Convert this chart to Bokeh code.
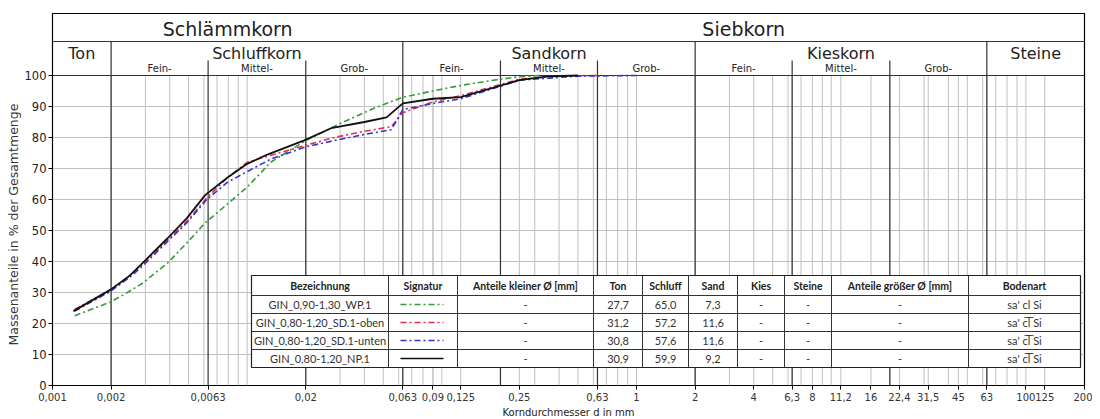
import math
from bokeh.plotting import figure
from bokeh.models import FixedTicker, Range1d, Title
from bokeh.core.properties import value
from bokeh.embed import file_html
from bokeh.resources import INLINE

# ---------------- data ----------------
names = ["GIN_0,90-1,30_WP.1", "GIN_0,80-1,20_SD.1-oben",
         "GIN_0,80-1,20_SD.1-unten", "GIN_0,80-1,20_NP.1"]

d_wp = [0.0013, 0.002, 0.0025, 0.0029, 0.0039, 0.0049, 0.0061, 0.0079, 0.0100, 0.0132,
        0.02, 0.03, 0.045, 0.063, 0.09, 0.125, 0.18, 0.25, 0.32]
p_wp = [22.5, 27.0, 30.5, 33.0, 39.5, 46.0, 52.5, 58.5, 64.0, 72.0,
        79.0, 84.5, 89.5, 93.0, 95.0, 96.8, 98.4, 99.6, 100.0]

d_oben = [0.0013, 0.002, 0.0025, 0.0029, 0.0039, 0.0049, 0.0062, 0.0079, 0.0100, 0.0128,
          0.02, 0.028, 0.04, 0.055, 0.063, 0.09, 0.125, 0.25, 0.4, 0.63]
p_oben = [24.5, 31.0, 35.5, 39.0, 47.0, 53.0, 60.5, 67.0, 72.0, 74.0,
          77.5, 80.0, 82.0, 83.5, 88.0, 91.5, 93.5, 98.8, 99.8, 100.0]

d_unten = [0.0013, 0.002, 0.0025, 0.0029, 0.0039, 0.0049, 0.0062, 0.0079, 0.0100, 0.0132,
           0.02, 0.028, 0.04, 0.055, 0.063, 0.09, 0.125, 0.25, 0.5, 1.0]
p_unten = [24.0, 30.5, 35.0, 38.5, 46.5, 52.5, 60.0, 65.5, 69.0, 73.0,
           77.0, 79.0, 81.0, 82.5, 89.0, 91.0, 92.5, 98.5, 99.8, 100.0]

d_np = [0.00128, 0.002, 0.0025, 0.0029, 0.0039, 0.0049, 0.0061, 0.0079, 0.0100, 0.0127,
        0.0195, 0.027, 0.040, 0.052, 0.063, 0.09, 0.125, 0.25, 0.35, 0.5]
p_np = [24.0, 31.0, 35.5, 39.5, 47.5, 54.0, 61.5, 67.0, 71.5, 74.5,
        79.0, 83.0, 85.0, 86.5, 91.0, 92.5, 93.0, 98.5, 99.7, 100.0]

ton = [27.7, 31.2, 30.8, 30.9]
schluff = [65.0, 57.2, 57.6, 59.9]
sand = [7.3, 11.6, 11.6, 9.2]
kies = ["-", "-", "-", "-"]
steine = ["-", "-", "-", "-"]
kleiner = ["-", "-", "-", "-"]
groesser = ["-", "-", "-", "-"]
bodenart = ["sa' cl Si", "sa' c\u0305l\u0305 Si", "sa' c\u0305l\u0305 Si", "sa' c\u0305l\u0305 Si"]
table_headers = ["Bezeichnung", "Signatur", "Anteile kleiner \u00d8 [mm]", "Ton", "Schluff",
                 "Sand", "Kies", "Steine", "Anteile gr\u00f6\u00dfer \u00d8 [mm]", "Bodenart"]

x_tick_values = [0.001, 0.002, 0.0063, 0.02, 0.063, 0.09, 0.125, 0.25, 0.63, 1, 2, 4, 6.3, 8,
                 11.2, 16, 22.4, 31.5, 45, 63, 100, 125, 200]
x_tick_labels = ["0,001", "0,002", "0,0063", "0,02", "0,063", "0,09", "0,125", "0,25", "0,63",
                 "1", "2", "4", "6,3", "8", "11,2", "16", "22,4", "31,5", "45", "63", "100",
                 "125", "200"]
y_ticks = [0, 10, 20, 30, 40, 50, 60, 70, 80, 90, 100]

# soil classes (boundaries)
main_bounds = [0.002, 0.063, 2, 63]
sub_bounds = [0.0063, 0.02, 0.2, 0.63, 6.3, 20]
sieve_extra = [0.063, 0.09, 0.125, 0.25, 0.63, 6.3, 11.2, 16, 22.4, 31.5, 45, 63, 125]

# ---------------- layout helpers (page pixel -> data) ----------------
FL, FR, FT, FB = 52, 1084, 13, 385
XMIN, XMAX, YMIN, YMAX = 0.001, 200, 0, 120
PPD = (FR - FL) / math.log10(XMAX / XMIN)
PPU = (FB - FT) / (YMAX - YMIN)

def X(px):
    return XMIN * 10 ** ((px - FL) / PPD)

def Y(py):
    return (FB - py) / PPU

def gmean(a, b):
    return math.sqrt(a * b)

p = figure(frame_width=FR - FL, frame_height=FB - FT, x_axis_type="log",
           x_range=Range1d(XMIN, XMAX), y_range=Range1d(YMIN, YMAX),
           output_backend="svg", toolbar_location=None,
           min_border_left=FL, min_border_top=FT, min_border_right=8, min_border_bottom=30)
p.xgrid.visible = False
p.ygrid.visible = False
p.outline_line_color = "black"
p.outline_line_width = 1.2
p.background_fill_color = "white"

# axes
xa = p.xaxis[0]
xa.ticker = FixedTicker(ticks=x_tick_values)
xa.major_label_overrides = {v: l for v, l in zip(x_tick_values, x_tick_labels)}
xa.major_label_text_font = "DejaVu Sans"
xa.major_label_text_font_size = "10px"
xa.major_label_text_color = "#333333"
xa.major_tick_out = 4
xa.major_tick_in = 0
xa.minor_tick_out = 0
xa.minor_tick_in = 0
xa.axis_line_color = None
xa.major_label_standoff = 3
xa.axis_label = "Korndurchmesser d in mm"
xa.axis_label_text_font = "DejaVu Sans"
xa.axis_label_text_font_size = "10px"
xa.axis_label_text_font_style = "normal"
xa.axis_label_text_color = "#222222"
xa.axis_label_standoff = 3

ya = p.yaxis[0]
ya.ticker = FixedTicker(ticks=y_ticks)
ya.major_label_text_font = "DejaVu Sans"
ya.major_label_text_font_size = "11.5px"
ya.major_label_text_color = "#222222"
ya.major_tick_out = 4
ya.major_tick_in = 0
ya.minor_tick_out = 0
ya.minor_tick_in = 0
ya.axis_line_color = None
ya.major_label_standoff = 2

# y-axis title, starting 40 px above the frame bottom (centred on the 0..100 part)
p.add_layout(Title(text="Massenanteile in % der Gesamtmenge", align="left", offset=40,
                   text_font="DejaVu Sans", text_font_size="12.5px",
                   text_font_style="normal", text_color="#333333", standoff=2), "left")

# ---------------- grid ----------------
gray_x = []
for k in range(-3, 3):
    for n in range(1, 10):
        v = n * 10 ** k
        if XMIN < v < XMAX:
            gray_x.append(v)
gray_x += sieve_extra
p.segment(x0=gray_x, y0=[0] * len(gray_x), x1=gray_x, y1=[100] * len(gray_x),
          line_color="#c0c0c0", line_width=1)
hy = y_ticks[1:-1]
p.segment(x0=[XMIN] * len(hy), y0=hy, x1=[XMAX] * len(hy), y1=hy,
          line_color="#c0c0c0", line_width=1)

# boundaries
p.segment(x0=main_bounds, y0=[0] * 4, x1=main_bounds, y1=[Y(41)] * 4,
          line_color="#333333", line_width=1.2)
p.segment(x0=sub_bounds, y0=[0] * 6, x1=sub_bounds, y1=[Y(60)] * 6,
          line_color="#333333", line_width=1.2)
p.segment(x0=[XMIN, XMIN], y0=[100, Y(41)], x1=[XMAX, XMAX], y1=[100, Y(41)],
          line_color="#333333", line_width=1.2)

# header texts
hfont = value("DejaVu Sans")
p.text(x=[gmean(XMIN, 0.063), gmean(0.063, XMAX)], y=[Y(28)] * 2,
       text=["Schl\u00e4mmkorn", "Siebkorn"], text_font=hfont, text_font_size="19px",
       text_align="center", text_baseline="middle", text_color="#222222")
p.text(x=[gmean(XMIN, 0.002), gmean(0.002, 0.063), gmean(0.063, 2), gmean(2, 63), gmean(63, XMAX)],
       y=[Y(53)] * 5, text=["Ton", "Schluffkorn", "Sandkorn", "Kieskorn", "Steine"],
       text_font=hfont, text_font_size="16px", text_align="center", text_baseline="middle",
       text_color="#222222")
groups = [[0.002, 0.0063, 0.02, 0.063], [0.063, 0.2, 0.63, 2], [2, 6.3, 20, 63]]
sx, st = [], []
for g in groups:
    for i, lab in enumerate(["Fein-", "Mittel-", "Grob-"]):
        sx.append(gmean(g[i], g[i + 1]))
        st.append(lab)
p.text(x=sx, y=[Y(68)] * len(sx), text=st, text_font=hfont, text_font_size="10px",
       text_align="center", text_baseline="middle", text_color="#222222")

# ---------------- curves ----------------
colors = ["#3a9a3a", "#e0304a", "#3434c8", "#111111"]
dashes = ["6 3 2 3", "6 3 2 3", "6 3 2 3", "solid"]
widths = [1.6, 1.6, 1.6, 1.8]
series = [(d_wp, p_wp), (d_oben, p_oben), (d_unten, p_unten), (d_np, p_np)]
for (dd, pp), c, ds, w in zip(series, colors, dashes, widths):
    p.line(dd, pp, line_color=c, line_dash=ds, line_width=w)

# ---------------- table ----------------
col_px = [251, 388, 457, 593, 642, 688, 737, 784, 831, 968, 1080]
row_px = [275, 295, 313, 331, 349, 367]
p.quad(left=X(col_px[0]), right=X(col_px[-1]), top=Y(row_px[0]), bottom=Y(row_px[-1]),
       fill_color="white", line_color="#222222", line_width=1.2)
cx = [X(c) for c in col_px[1:-1]]
p.segment(x0=cx, y0=[Y(row_px[0])] * len(cx), x1=cx, y1=[Y(row_px[-1])] * len(cx),
          line_color="#333333", line_width=1)
ry = [Y(r) for r in row_px[1:-1]]
p.segment(x0=[X(col_px[0])] * len(ry), y0=ry, x1=[X(col_px[-1])] * len(ry), y1=ry,
          line_color="#333333", line_width=1)

ccent = [X((a + b) / 2) for a, b in zip(col_px[:-1], col_px[1:])]
rcent = [Y((a + b) / 2) for a, b in zip(row_px[:-1], row_px[1:])]
tfont = value("Lato")
p.text(x=ccent, y=[rcent[0]] * len(ccent), text=table_headers, text_font=tfont,
       text_font_size="10.5px", text_font_style="bold", text_align="center",
       text_baseline="middle", text_color="#222222")

fmt = lambda v: f"{v:.1f}".replace(".", ",")
cols_text = [names, None, kleiner, [fmt(v) for v in ton], [fmt(v) for v in schluff],
             [fmt(v) for v in sand], kies, steine, groesser, bodenart]
tx, ty, tt = [], [], []
for ci, col in enumerate(cols_text):
    if col is None:
        continue
    for ri, s in enumerate(col):
        tx.append(ccent[ci])
        ty.append(rcent[ri + 1])
        tt.append(s)
p.text(x=tx, y=ty, text=tt, text_font=tfont, text_font_size="11px", text_align="center",
       text_baseline="middle", text_color="#333333")

for ri, (c, ds, w) in enumerate(zip(colors, dashes, widths)):
    p.line([X(400), X(443)], [rcent[ri + 1]] * 2, line_color=c, line_dash=ds,
           line_width=1.3 if ds != "solid" else 1.5)

open("out.html", "w").write(file_html(p, INLINE))
